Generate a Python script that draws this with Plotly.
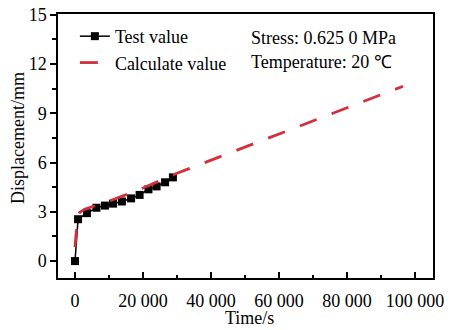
import plotly.graph_objects as go

# Test data
test_time = [0, 900, 3500, 6300, 8800, 11200, 13800, 16500, 19000, 21600, 24000, 26500, 28800]
test_disp = [0, 2.55, 2.92, 3.25, 3.38, 3.5, 3.63, 3.82, 4.03, 4.37, 4.55, 4.8, 5.1]

# Calculated curve
calc_time = [0, 300, 700, 1300, 2800, 6000, 9600, 14500, 20000, 30000, 40000, 60000, 80000, 96500]
calc_disp = [0.85, 1.9, 2.6, 2.95, 3.15, 3.38, 3.62, 4.0, 4.45, 5.35, 6.15, 7.74, 9.34, 10.65]

x_ticks = [0, 20000, 40000, 60000, 80000, 100000]
x_tick_labels = ["0", "20 000", "40 000", "60 000", "80 000", "100 000"]
y_ticks = [0, 3, 6, 9, 12, 15]

FONT = "Liberation Serif, Times New Roman, serif"

fig = go.Figure()
fig.add_trace(go.Scatter(
    x=test_time, y=test_disp, mode="lines+markers", name="Test value",
    line=dict(color="black", width=1.5),
    marker=dict(symbol="square", size=8, color="black"),
))
fig.add_trace(go.Scatter(
    x=calc_time, y=calc_disp, mode="lines", name="Calculate value",
    line=dict(color="#d42f3a", width=2.8, dash="18px,16px"),
))

fig.update_layout(
    width=452, height=330,
    margin=dict(l=58, r=19, t=14, b=52),
    paper_bgcolor="white", plot_bgcolor="white",
    font=dict(family=FONT, size=18, color="black"),
    showlegend=True,
    legend=dict(x=0.045, y=0.985, xanchor="left", yanchor="top",
                bgcolor="rgba(0,0,0,0)", font=dict(size=18), tracegroupgap=0,
                itemwidth=30),
    xaxis=dict(
        range=[-5000, 105300],
        tickvals=x_ticks, ticktext=x_tick_labels,
        ticks="inside", ticklen=6, tickwidth=1.5, tickcolor="black",
        minor=dict(dtick=10000, tick0=0, ticks="inside", ticklen=3, tickwidth=1.5, tickcolor="black"),
        showline=True, linecolor="black", linewidth=1.5, mirror=True,
        showgrid=False, zeroline=False, automargin=False,
        ticklabelstandoff=6,
    ),
    yaxis=dict(
        range=[-1.03, 15.05],
        tickvals=y_ticks,
        ticks="outside", ticklen=6, tickwidth=1.5, tickcolor="black",
        minor=dict(dtick=1.5, tick0=0, ticks="outside", ticklen=4, tickwidth=1.5, tickcolor="black"),
        showline=True, linecolor="black", linewidth=1.5, mirror=True,
        showgrid=False, zeroline=False, automargin=False,
    ),
    annotations=[
        dict(text="Stress: 0.625 0 MPa", xref="paper", yref="paper", x=0.51, y=0.909,
             xanchor="left", yanchor="middle", showarrow=False, font=dict(size=18)),
        dict(text="Temperature: 20 ℃", xref="paper", yref="paper", x=0.51, y=0.818,
             xanchor="left", yanchor="middle", showarrow=False, font=dict(size=18)),
        dict(text="Time/s", xref="paper", yref="paper", x=0.51, y=-0.152,
             xanchor="center", yanchor="middle", showarrow=False, font=dict(size=18)),
        dict(text="Displacement/mm", xref="paper", yref="paper", x=-0.107, y=0.53,
             xanchor="center", yanchor="middle", textangle=-90, showarrow=False,
             font=dict(size=18)),
    ],
)

fig.write_html("out.html")
